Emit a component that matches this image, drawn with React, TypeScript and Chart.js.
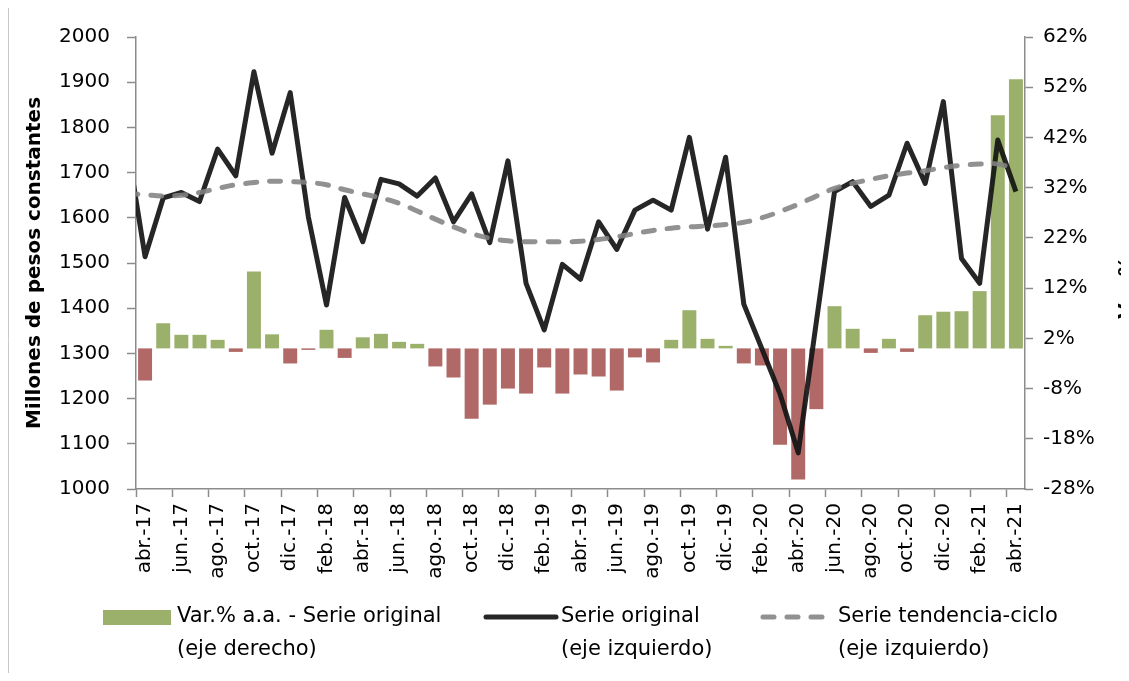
import React, { useEffect, useRef } from 'react';
import { Chart, registerables } from 'chart.js';

Chart.register(...registerables);

// Categories (mar.-17 is outside the visible range; the lines enter from it, as in the source)
const LABELS = [
  'mar.-17', 'abr.-17', 'may.-17', 'jun.-17', 'jul.-17', 'ago.-17', 'sep.-17', 'oct.-17', 'nov.-17', 'dic.-17',
  'ene.-18', 'feb.-18', 'mar.-18', 'abr.-18', 'may.-18', 'jun.-18', 'jul.-18', 'ago.-18', 'sep.-18', 'oct.-18', 'nov.-18', 'dic.-18',
  'ene.-19', 'feb.-19', 'mar.-19', 'abr.-19', 'may.-19', 'jun.-19', 'jul.-19', 'ago.-19', 'sep.-19', 'oct.-19', 'nov.-19', 'dic.-19',
  'ene.-20', 'feb.-20', 'mar.-20', 'abr.-20', 'may.-20', 'jun.-20', 'jul.-20', 'ago.-20', 'sep.-20', 'oct.-20', 'nov.-20', 'dic.-20',
  'ene.-21', 'feb.-21', 'mar.-21', 'abr.-21',
];

// Var.% a.a. - Serie original (eje derecho)
const VAR_AA = [
  null,
  -6.4, 5.0, 2.7, 2.7, 1.7, -0.7, 15.3, 2.8, -3.0,
  -0.3, 3.7, -1.9, 2.2, 2.9, 1.3, 0.9, -3.6, -5.8, -14.0, -11.2, -8.0,
  -9.0, -3.8, -9.0, -5.2, -5.6, -8.4, -1.8, -2.8, 1.7, 7.6, 1.9, 0.5,
  -3.0, -3.4, -19.2, -26.1, -12.1, 8.4, 3.9, -0.9, 1.9, -0.7, 6.6, 7.3,
  7.4, 11.4, 46.4, 53.6,
];

// Serie original (eje izquierdo)
const SERIE_ORIGINAL = [
  1765,
  1514, 1644, 1656, 1636, 1752, 1693, 1923, 1743, 1877,
  1602, 1407, 1645, 1547, 1685, 1675, 1648, 1688, 1591, 1653, 1545, 1726,
  1455, 1352, 1497, 1464, 1591, 1530, 1617, 1639, 1617, 1778, 1575, 1734,
  1409, 1310, 1210, 1080, 1370, 1658, 1680, 1625, 1650, 1765, 1676, 1857,
  1510, 1455, 1772, 1658,
];

// Serie tendencia-ciclo (eje izquierdo)
const TENDENCIA = [
  1654,
  1651, 1648, 1650, 1656, 1665, 1673, 1678, 1681, 1680,
  1678, 1673, 1662, 1653, 1644, 1632, 1615, 1597, 1580, 1565, 1555, 1549,
  1547, 1547, 1547, 1548, 1552, 1558, 1565, 1572, 1577, 1580, 1582, 1585,
  1590, 1600, 1614, 1630, 1648, 1665, 1676, 1685, 1693, 1699, 1704, 1711,
  1716, 1719, 1719, 1708,
];

const LEFT_TICKS = [1000, 1100, 1200, 1300, 1400, 1500, 1600, 1700, 1800, 1900, 2000];
const RIGHT_TICKS = [-28, -18, -8, 2, 12, 22, 32, 42, 52, 62];

const LEFT_TITLE = 'Millones de pesos constantes';
const RIGHT_TITLE = 'Var.% a.a.';
const LEGEND_BAR = ['Var.% a.a. - Serie original', '(eje derecho)'];
const LEGEND_LINE = ['Serie original', '(eje izquierdo)'];
const LEGEND_TREND = ['Serie tendencia-ciclo', '(eje izquierdo)'];

const GREEN = '#9BB06B';
const RED = '#B06966';
const BLACK = 'rgba(20,20,20,0.92)';
const GRAY = 'rgba(130,130,130,0.88)';
const AXIS = '#8C8C8C';
const FONT = 'DejaVu Sans';

const W = 1121;
const H = 665;

const decorPlugin = {
  id: 'decor',
  afterDraw(chart: any) {
    const ctx = chart.ctx as CanvasRenderingContext2D;
    const area = chart.chartArea;
    ctx.save();
    // frame line on the left
    ctx.strokeStyle = '#C8C8C8';
    ctx.lineWidth = 1;
    ctx.beginPath();
    ctx.moveTo(0.5, 0);
    ctx.lineTo(0.5, H);
    ctx.stroke();

    const yc = (area.top + area.bottom) / 2;
    ctx.fillStyle = '#000';
    ctx.font = `bold 20px "${FONT}"`;
    // left title
    ctx.save();
    ctx.translate(27, yc);
    ctx.rotate(-Math.PI / 2);
    ctx.textAlign = 'center';
    ctx.textBaseline = 'middle';
    ctx.fillText(LEFT_TITLE, 0, 0);
    ctx.restore();
    // right title (cut by the page edge, as in the source)
    ctx.save();
    ctx.translate(1124, yc);
    ctx.rotate(-Math.PI / 2);
    ctx.textAlign = 'center';
    ctx.textBaseline = 'alphabetic';
    ctx.fillText(RIGHT_TITLE, 0, 0);
    ctx.restore();

    // legend
    const y1 = 609;
    const y2 = 642;
    ctx.font = `21px "${FONT}"`;
    ctx.textAlign = 'left';
    ctx.textBaseline = 'middle';

    ctx.fillStyle = GREEN;
    ctx.fillRect(95, 602, 68, 15);
    ctx.fillStyle = '#000';
    ctx.fillText(LEGEND_BAR[0], 169, y1);
    ctx.fillText(LEGEND_BAR[1], 169, y2);

    ctx.strokeStyle = BLACK;
    ctx.lineWidth = 5;
    ctx.lineCap = 'round';
    ctx.beginPath();
    ctx.moveTo(478, y1);
    ctx.lineTo(548, y1);
    ctx.stroke();
    ctx.fillText(LEGEND_LINE[0], 553, y1);
    ctx.fillText(LEGEND_LINE[1], 553, y2);

    ctx.strokeStyle = GRAY;
    ctx.setLineDash([11, 13]);
    ctx.beginPath();
    ctx.moveTo(755, y1);
    ctx.lineTo(826, y1);
    ctx.stroke();
    ctx.setLineDash([]);
    ctx.fillText(LEGEND_TREND[0], 830, y1);
    ctx.fillText(LEGEND_TREND[1], 830, y2);
    ctx.restore();
  },
};

export default function App() {
  const ref = useRef<HTMLCanvasElement | null>(null);

  useEffect(() => {
    if (!ref.current) return;
    const tickFont = { family: FONT, size: 20 };
    const chart = new Chart(ref.current, {
      type: 'bar',
      data: {
        labels: LABELS,
        datasets: [
          {
            type: 'line',
            label: 'Serie tendencia-ciclo (eje izquierdo)',
            data: TENDENCIA,
            yAxisID: 'y',
            borderColor: GRAY,
            borderWidth: 5,
            borderDash: [11, 13],
            borderCapStyle: 'round',
            pointRadius: 0,
            tension: 0.4,
            order: 0,
          } as any,
          {
            type: 'line',
            label: 'Serie original (eje izquierdo)',
            data: SERIE_ORIGINAL,
            yAxisID: 'y',
            borderColor: BLACK,
            borderWidth: 5,
            borderJoinStyle: 'round',
            pointRadius: 0,
            tension: 0,
            order: 1,
          } as any,
          {
            type: 'bar',
            label: 'Var.% a.a. - Serie original (eje derecho)',
            data: VAR_AA,
            yAxisID: 'y1',
            backgroundColor: (c: any) => (c.raw !== null && c.raw < 0 ? RED : GREEN),
            borderWidth: 0,
            categoryPercentage: 1,
            barPercentage: 0.77,
            order: 2,
          } as any,
        ],
      },
      options: {
        responsive: false,
        animation: false,
        devicePixelRatio: 1,
        layout: { padding: { top: 29, left: 0, right: 0, bottom: H - 481 - 100 } },
        plugins: { legend: { display: false }, tooltip: { enabled: false } },
        scales: {
          x: {
            type: 'category',
            min: 'abr.-17',
            offset: true,
            grid: {
              offset: true,
              drawOnChartArea: false,
              tickLength: 8,
              tickWidth: 1.5,
              color: (c: any) => (c.tick && (c.tick.value - 1) % 2 === 0 ? AXIS : 'rgba(0,0,0,0)'),
              tickColor: (c: any) => (c.tick && (c.tick.value - 1) % 2 === 0 ? AXIS : 'rgba(0,0,0,0)'),
            },
            border: { color: AXIS, width: 1.5 },
            ticks: {
              autoSkip: false,
              maxRotation: 90,
              minRotation: 90,
              padding: 6,
              color: '#000',
              font: tickFont,
              callback: (v: any) => ((Number(v) - 1) % 2 === 0 ? LABELS[Number(v)] : ''),
            },
            afterFit: (s: any) => {
              s.height = 100;
            },
          },
          y: {
            type: 'linear',
            position: 'left',
            min: 1000,
            max: 2000,
            afterBuildTicks: (s: any) => {
              s.ticks = LEFT_TICKS.map((v) => ({ value: v }));
            },
            grid: { drawOnChartArea: false, tickLength: 9, tickWidth: 1.5, color: AXIS },
            border: { color: AXIS, width: 1.5 },
            ticks: { padding: 17, color: '#000', font: tickFont, callback: (v: any) => String(v) },
            afterFit: (s: any) => {
              s.width = 128;
            },
          },
          y1: {
            type: 'linear',
            position: 'right',
            min: -28,
            max: 62,
            afterBuildTicks: (s: any) => {
              s.ticks = RIGHT_TICKS.map((v) => ({ value: v }));
            },
            grid: { drawOnChartArea: false, tickLength: 8, tickWidth: 1.5, color: AXIS },
            border: { color: AXIS, width: 1.5 },
            ticks: { padding: 10, color: '#000', font: tickFont, callback: (v: any) => `${v}%` },
            afterFit: (s: any) => {
              s.width = W - 1017;
            },
          },
        },
      } as any,
      plugins: [decorPlugin],
    });
    return () => chart.destroy();
  }, []);

  return (
    <div style={{ width: W, height: H }}>
      <canvas ref={ref} width={W} height={H} style={{ display: 'block', width: W, height: H }} />
    </div>
  );
}
